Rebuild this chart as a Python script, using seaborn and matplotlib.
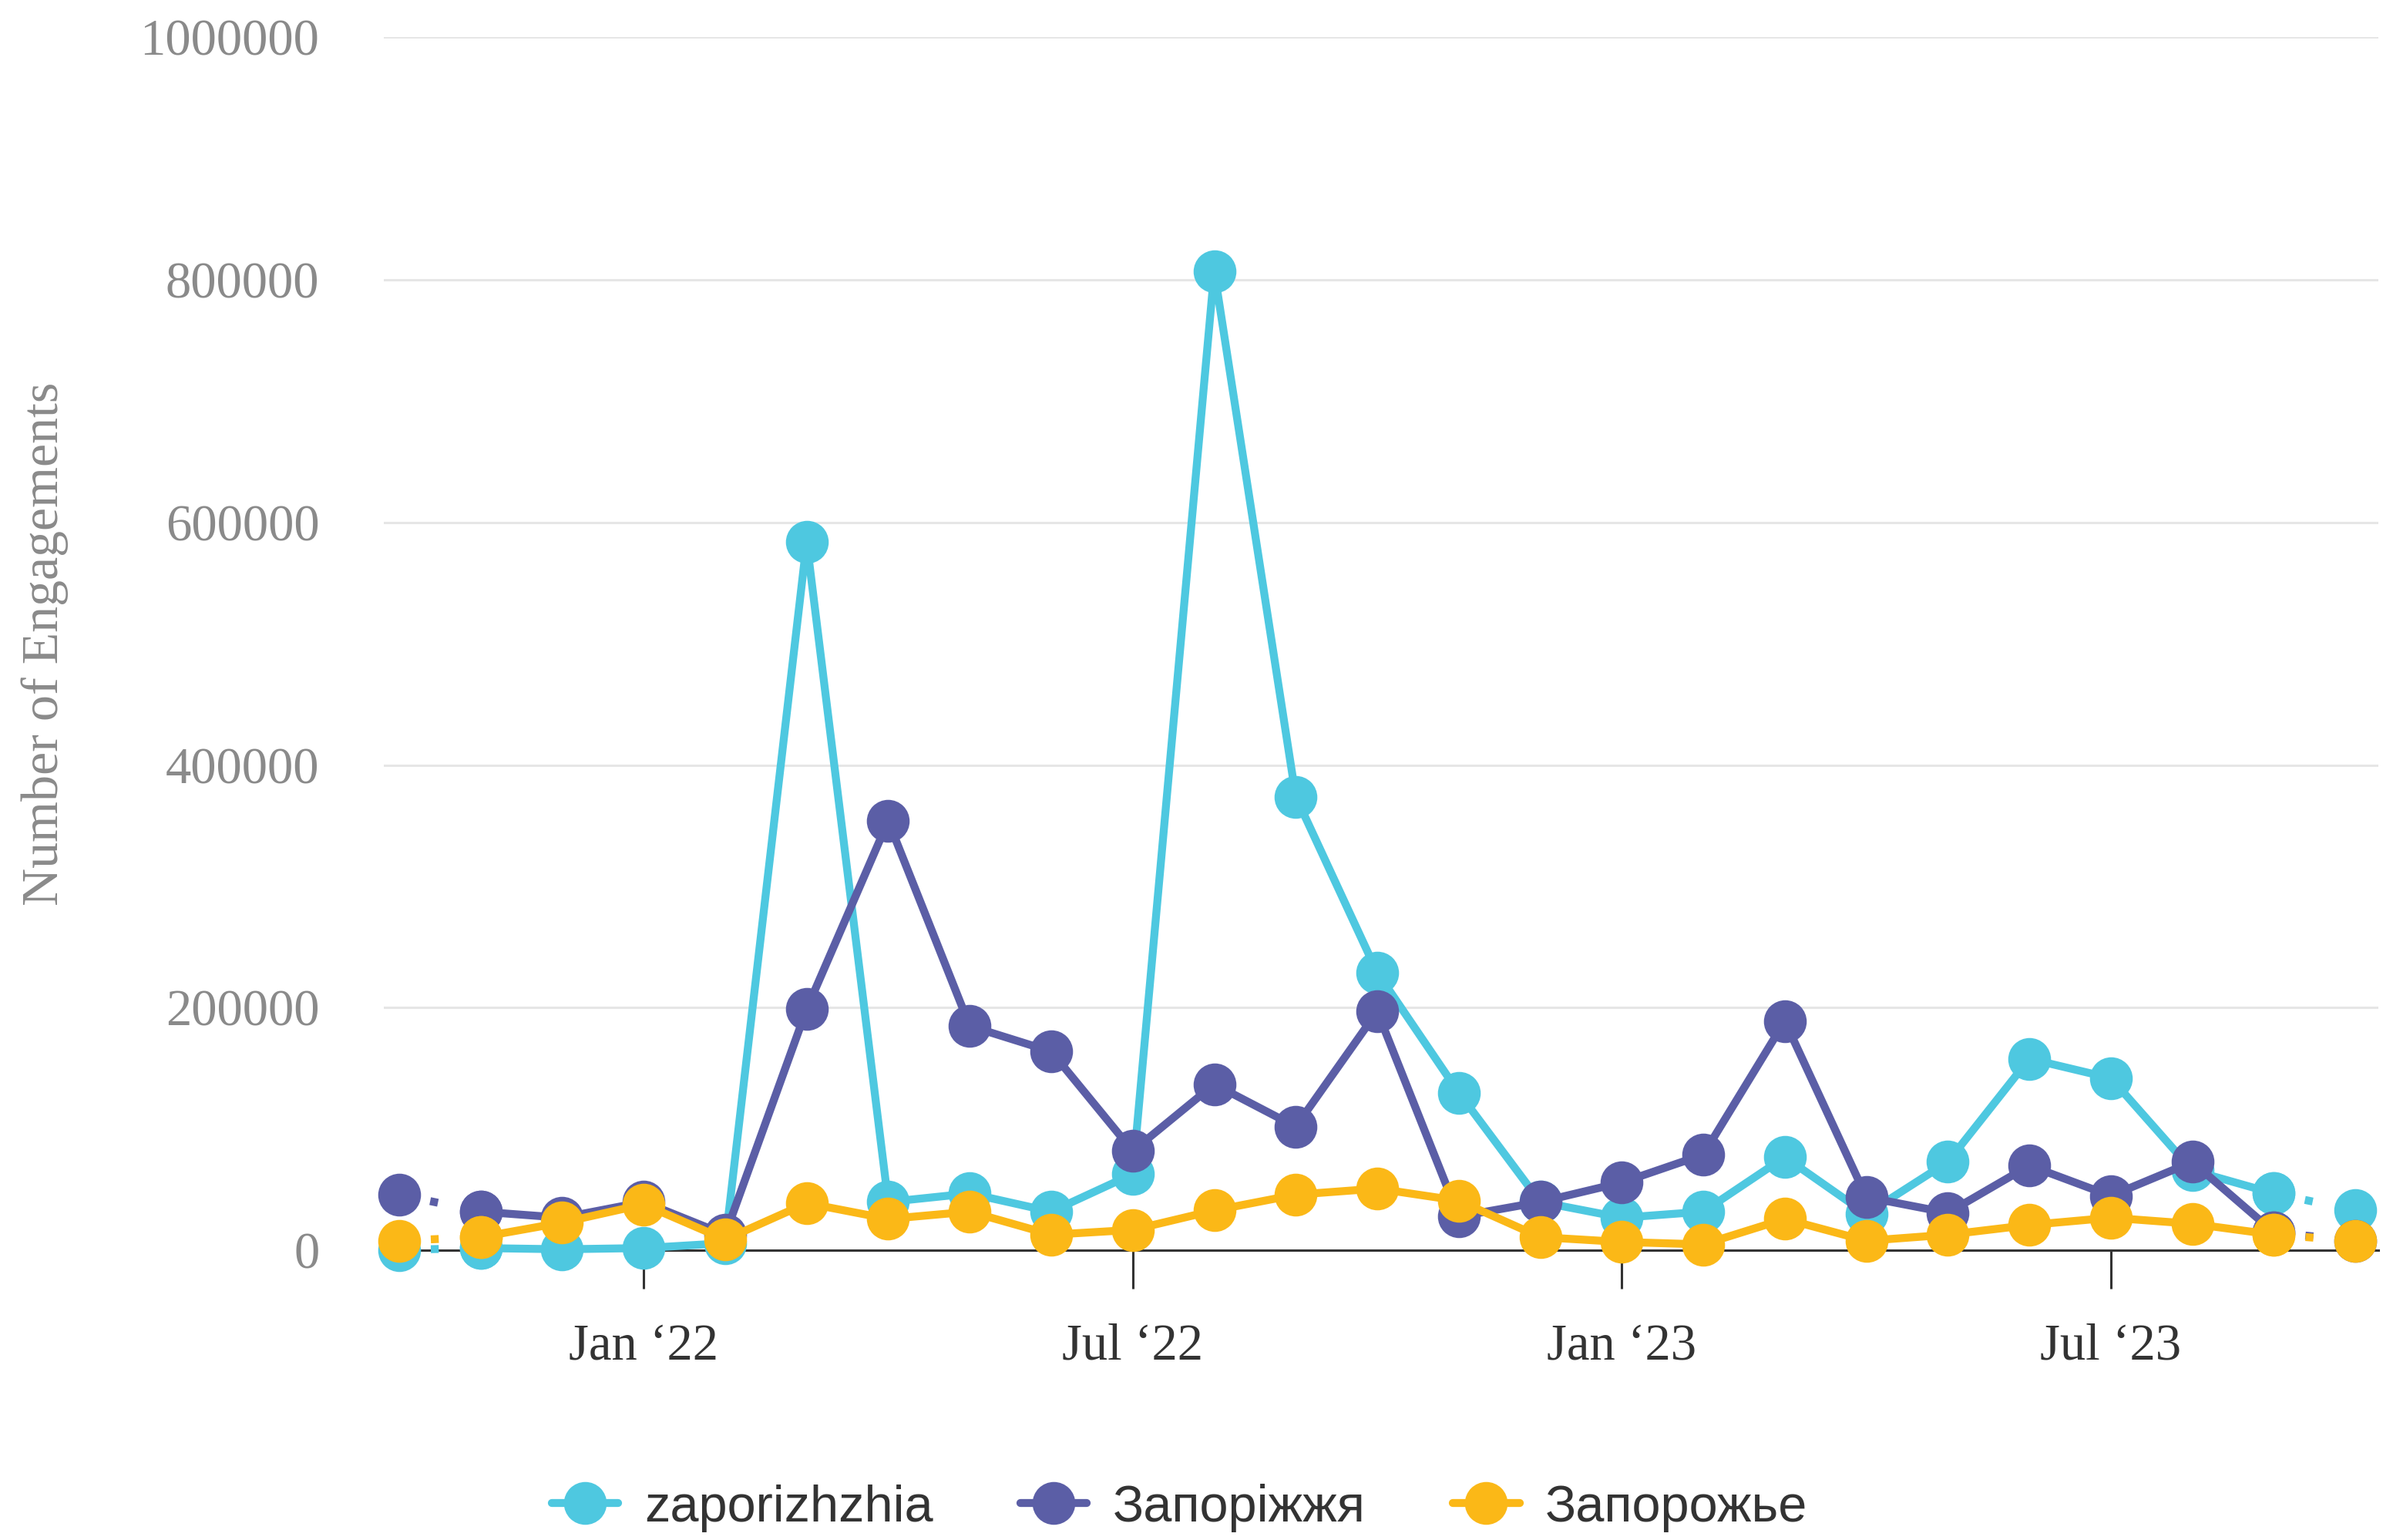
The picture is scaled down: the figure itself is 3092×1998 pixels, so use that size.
import matplotlib
matplotlib.use('Agg')
import matplotlib.pyplot as plt
from matplotlib.lines import Line2D
import pandas as pd
import seaborn as sns

sns.set_theme(style="white")
plt.rcParams['font.family'] = ['Liberation Serif', 'DejaVu Serif']

# ── data (monthly engagements, Oct 2021 - Oct 2023) ───────────────
months = ['Oct 2021', 'Nov 2021', 'Dec 2021', 'Jan 2022', 'Feb 2022', 'Mar 2022',
          'Apr 2022', 'May 2022', 'Jun 2022', 'Jul 2022', 'Aug 2022', 'Sep 2022',
          'Oct 2022', 'Nov 2022', 'Dec 2022', 'Jan 2023', 'Feb 2023', 'Mar 2023',
          'Apr 2023', 'May 2023', 'Jun 2023', 'Jul 2023', 'Aug 2023', 'Sep 2023',
          'Oct 2023']
tick_months = ['Jan 2022', 'Jul 2022', 'Jan 2023', 'Jul 2023']
tick_labels = ['Jan \u201822', 'Jul \u201822', 'Jan \u201823', 'Jul \u201823']

series_names = ['zaporizhzhia', 'Запоріжжя', 'Запорожье']
colors = ['#4ec8e0', '#5b5ea6', '#fbb817']

zaporizhzhia = [500, 2000, 1000, 2000, 6000, 584000, 40000, 47000, 32000, 63000,
                807000, 374000, 229000, 130000, 40000, 27000, 32000, 77000, 30000,
                73000, 158000, 142000, 66000, 47000, 33000]
zaporizhzhia_uk = [46000, 32000, 27000, 40000, 13000, 199000, 354000, 185000, 164000,
                   82000, 137000, 102000, 197000, 28000, 40000, 56000, 79000, 189000,
                   44000, 31000, 70000, 45000, 73000, 15000, 8000]
zaporozhye_ru = [8000, 11000, 23000, 38000, 9000, 39000, 26000, 32000, 13000, 17000,
                 33000, 46000, 51000, 41000, 11000, 7000, 5000, 26000, 8000, 13000,
                 21000, 27000, 22000, 13000, 8000]

frames = []
for name, vals in zip(series_names, [zaporizhzhia, zaporizhzhia_uk, zaporozhye_ru]):
    frames.append(pd.DataFrame({'idx': range(len(months)), 'month': months,
                                'value': vals, 'series': name}))
df = pd.concat(frames, ignore_index=True)
last = len(months) - 1

# ── plot ──────────────────────────────────────────────────────────
fig, ax = plt.subplots(figsize=(15.46, 9.99), dpi=200)
fig.subplots_adjust(left=0.161, right=0.998, top=0.976, bottom=0.188)

line_kw = dict(lw=3.7, marker='o', markersize=20, markeredgewidth=0,
               clip_on=False, legend=False, ax=ax)
for i, (name, col) in enumerate(zip(series_names, colors)):
    sub = df[df['series'] == name]
    # first and last month are partial -> dotted
    for part in (sub[sub['idx'] <= 1], sub[sub['idx'] >= last - 1]):
        sns.lineplot(data=part, x='idx', y='value', color=col,
                     linestyle=(0, (1, 3)), zorder=3 + i, **line_kw)
    solid = sub[(sub['idx'] >= 1) & (sub['idx'] <= last - 1)]
    sns.lineplot(data=solid, x='idx', y='value', color=col, zorder=3 + i, **line_kw)

ax.set_ylim(0, 1000000)
ax.set_yticks(range(0, 1000001, 200000))
ax.set_yticklabels([str(v) for v in range(0, 1000001, 200000)])
ax.set_xlim(-0.19, last + 0.28)
ax.set_xticks([months.index(m) for m in tick_months])
ax.set_xticklabels(tick_labels)

ax.grid(axis='y', color='#e6e6e6', lw=1.1)
ax.grid(axis='x', visible=False)
ax.set_axisbelow(True)
for s in ['top', 'right', 'left']:
    ax.spines[s].set_visible(False)
ax.spines['bottom'].set_color('#333333')
ax.spines['bottom'].set_linewidth(1.1)
ax.spines['bottom'].set_zorder(2.5)

ax.tick_params(axis='y', length=0, pad=30, labelsize=24, labelcolor='#8a8a8a')
ax.tick_params(axis='x', bottom=True, length=18, width=1.1, color='#333333',
               pad=16, labelsize=24, labelcolor='#333333')

ax.set_xlabel('')
ax.set_ylabel('Number of Engagements', fontsize=24.5, color='#8a8a8a')
ax.yaxis.set_label_coords(-0.158, 0.5)

handles = [Line2D([0], [0], color=c, lw=3.7, marker='o', markersize=20,
                  markeredgewidth=0) for c in colors]
leg = fig.legend(handles, series_names, loc='center', bbox_to_anchor=(0.495, 0.021),
                 ncol=3, frameon=False, handlelength=1.3, handletextpad=0.5,
                 columnspacing=1.7, prop={'family': 'Liberation Sans', 'size': 24})
for t in leg.get_texts():
    t.set_color('#333333')

fig.savefig('out.png', dpi=200)
plt.close()
